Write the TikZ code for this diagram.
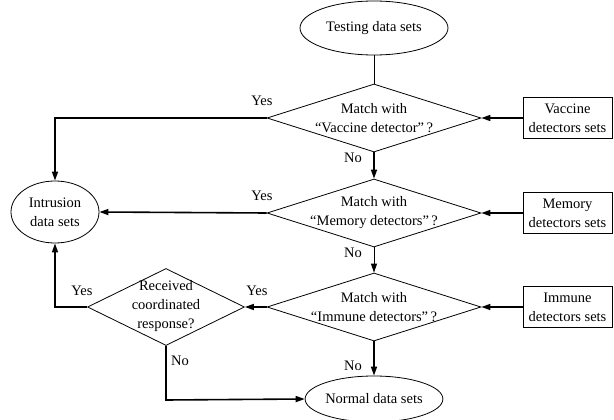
\documentclass[tikz,border=0pt]{standalone}
\usepackage{fontspec}
\setmainfont{Liberation Serif}
\usetikzlibrary{shapes.geometric,arrows.meta}
\begin{document}
\begin{tikzpicture}[x=1pt,y=-1pt,
  every node/.style={font=\fontsize{14.5}{19}\selectfont},
  oval/.style={ellipse,draw,line width=0.8pt,inner sep=0pt,align=center},
  dia/.style={diamond,draw,line width=0.8pt,inner sep=0pt,minimum width=214pt,minimum height=68pt},
  dia2/.style={diamond,draw,line width=0.8pt,inner sep=0pt,minimum width=157pt,minimum height=77pt},
  sbox/.style={rectangle,draw,line width=0.8pt,minimum width=89pt,minimum height=41pt,align=center,inner sep=1pt},
  txt/.style={align=center,inner sep=0pt},
  lab/.style={inner sep=0pt},
  thickarr/.style={line width=1.6pt,-{Triangle[length=9pt,width=6pt]}},
  thinarr/.style={line width=0.8pt,-{Triangle[length=9pt,width=6pt]}},
  thickln/.style={line width=1.6pt}]
\useasboundingbox (0,0) rectangle (614,420);
% nodes
\node[oval,minimum width=148pt,minimum height=54pt] (test) at (374,28) {Testing data sets};
\node[dia] (d1) at (374,118) {};
\node[txt] at (d1) {Match with\\“Vaccine detector”\,?};
\node[dia] (d2) at (374,213) {};
\node[txt] at (d2) {Match with\\“Memory detectors”\,?};
\node[dia] (d3) at (374,307) {};
\node[txt] at (d3) {Match with\\“Immune detectors”\,?};
\node[dia2] (d4) at (166,307) {};
\node[txt] at (166,306) {Received\\coordinated\\response?};
\node[sbox] (vb) at (567.5,118) {Vaccine\\detectors sets};
\node[sbox] (mb) at (567.5,213) {Memory\\detectors sets};
\node[sbox] (ib) at (567.5,307) {Immune\\detectors sets};
\node[oval,minimum width=88pt,minimum height=62pt] (intr) at (55,212) {Intrusion\\data sets};
\node[oval,minimum width=130pt,minimum height=46pt] (norm) at (374,399) {Normal data sets};
\coordinate (c1) at (55,118);
\coordinate (c2) at (55,307);
\coordinate (c3) at (166,400);
% connectors
\draw[line width=0.8pt] (test) -- (d1.north);
\draw[thickarr] (vb) -- (d1.east);
\draw[thickarr] (mb) -- (d2.east);
\draw[thickarr] (ib) -- (d3.east);
\draw[thickarr] (d1.south) -- (d2.north);
\draw[thinarr] (d2.south) -- (d3.north);
\draw[thickarr] (d3.south) -- (norm.north);
\draw[thickarr] (d1.west) -- (c1) -- (intr.north);
\draw[thickarr] (d2.west) -- (intr.east);
\draw[thickarr] (d3.west) -- (d4.east);
\draw[thickarr] (d4.west) -- (c2) -- (intr.south);
\draw[thickarr] (d4.south) -- (c3) -- (norm.west);
% labels
\node[lab] at (262,101) {Yes};
\node[lab] at (262,196) {Yes};
\node[lab] at (257,291) {Yes};
\node[lab] at (82,291) {Yes};
\node[lab] at (353,158) {No};
\node[lab] at (353,253) {No};
\node[lab] at (353,366) {No};
\node[lab] at (180,361) {No};
\end{tikzpicture}
\end{document}
